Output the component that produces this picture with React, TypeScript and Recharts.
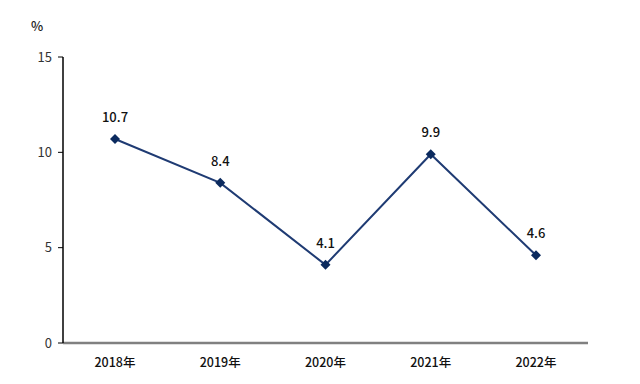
import { LabelList, Line, LineChart, XAxis, YAxis } from 'recharts';

const years = ['2018年', '2019年', '2020年', '2021年', '2022年'];
const growth = [10.7, 8.4, 4.1, 9.9, 4.6];
const yTicks = [0, 5, 10, 15];

const data = years.map((year, i) => ({ year, value: growth[i] }));

const FONT = '"Noto Sans CJK SC", "DejaVu Sans", sans-serif';

function Diamond(props: any) {
  const { cx, cy } = props;
  if (cx == null || cy == null) return null;
  const r = 5;
  return (
    <polygon
      points={`${cx},${cy - r} ${cx + r},${cy} ${cx},${cy + r} ${cx - r},${cy}`}
      fill="#0b2a5e"
    />
  );
}

export default function App() {
  return (
    <div style={{ position: 'absolute', left: 0, top: 0, width: 640, height: 384, background: '#fff' }}>
      <div
        style={{
          position: 'absolute',
          left: 31,
          top: 16,
          fontSize: 13,
          fontFamily: FONT,
          fontWeight: 500,
          color: '#222',
        }}
      >
        %
      </div>
      <LineChart width={640} height={384} data={data} margin={{ top: 57, right: 52, left: 18, bottom: 11 }}>
        <XAxis
          dataKey="year"
          padding={{ left: 52, right: 52 }}
          axisLine={{ stroke: '#808080', strokeWidth: 2.5 }}
          tickLine={false}
          height={30}
          tick={{ fill: '#111', fontSize: 12.5, fontFamily: FONT, fontWeight: 500 }}
          tickMargin={9}
        />
        <YAxis
          width={45}
          domain={[0, 15]}
          ticks={yTicks}
          axisLine={{ stroke: '#000', strokeWidth: 1.5 }}
          tickLine={{ stroke: '#000' }}
          tickSize={5}
          tickMargin={6}
          tick={{ fill: '#333', fontSize: 13, fontFamily: FONT }}
        />
        <Line
          dataKey="value"
          stroke="#1f3b73"
          strokeWidth={2}
          dot={<Diamond />}
          activeDot={false}
          isAnimationActive={false}
        >
          <LabelList
            dataKey="value"
            position="top"
            offset={17}
            style={{ fill: '#111', fontSize: 13, fontFamily: FONT, fontWeight: 500 }}
          />
        </Line>
      </LineChart>
    </div>
  );
}
